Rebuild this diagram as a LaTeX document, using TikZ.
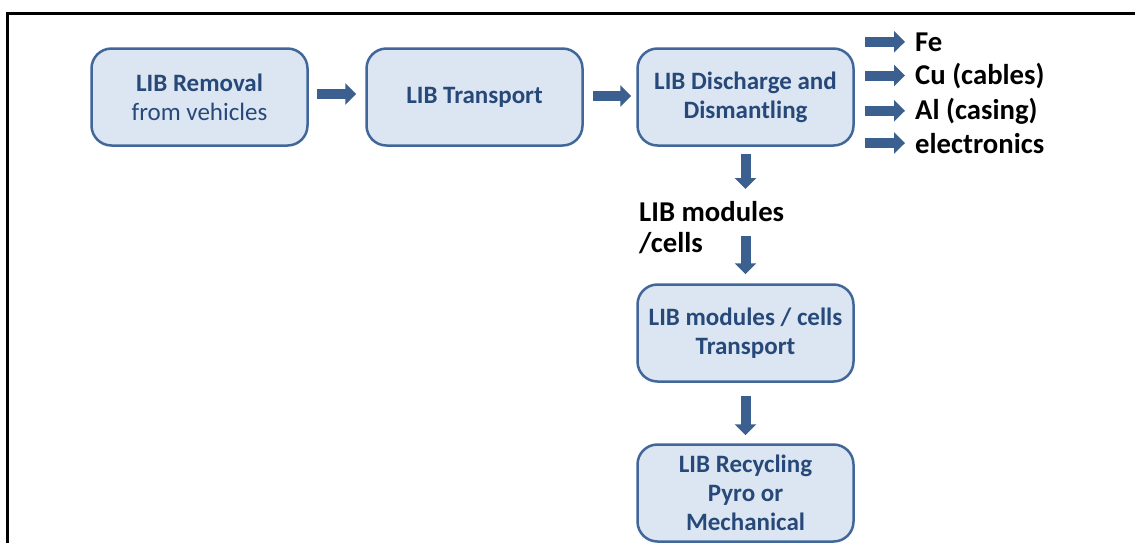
\documentclass[tikz,border=0pt]{standalone}
\usepackage{fontspec}
\setmainfont{Carlito}
\usetikzlibrary{arrows.meta}
\definecolor{boxfill}{HTML}{DCE6F2}
\definecolor{boxline}{HTML}{41679A}
\definecolor{boxtext}{HTML}{27497A}
\definecolor{arrowblue}{HTML}{3B5F8E}
\begin{document}
\begin{tikzpicture}[x=1pt,y=-1pt,
  stage/.style={draw=boxline, fill=boxfill, line width=2.5pt, rounded corners=20pt,
    minimum width=216pt, minimum height=97pt, align=center, text=boxtext,
    font=\fontsize{25}{29}\selectfont\bfseries, inner sep=0pt},
  lab/.style={font=\fontsize{28.7}{30.5}\selectfont\bfseries, inner sep=0pt, align=left, anchor=base west},
  blk/.style={draw=arrowblue, line width=10pt, -{Triangle[width=21pt,length=11pt,fill=arrowblue]}}
]
\useasboundingbox (0,0) rectangle (1135,542);
\draw[line width=3pt] (7,543) -- (7,13) -- (1135,13);

\node[stage] (b1) at (199.5,97) {LIB Removal\\{\mdseries from vehicles}};
\node[stage] (b2) at (474.5,97) {LIB Transport};
\node[stage] (b3) at (745.5,97) {LIB Discharge and\\Dismantling};
\node[stage] (b4) at (745.5,333) {LIB modules / cells\\Transport};
\node[stage] (b5) at (745.5,493) {LIB Recycling\\Pyro or\\Mechanical};

\node[lab] (t1) at (915,51) {Fe};
\node[lab] (t2) at (915,84) {Cu (cables)};
\node[lab] (t3) at (915,119) {Al (casing)};
\node[lab] (t4) at (915,153) {electronics};
\node[lab] (m) at (639,252) {LIB modules\\/cells};

\coordinate (c1) at (745.5,189);
\coordinate (c2) at (745.5,236);

\draw[blk, shorten <=8pt, shorten >=9pt] ([yshift=3pt]b1.east) -- ([yshift=3pt]b2.west);
\draw[blk, shorten <=9pt, shorten >=5pt] ([yshift=1pt]b2.east) -- ([yshift=1pt]b3.west);
\draw[blk, shorten <=7pt] (b3.south) -- (c1);
\draw[blk, shorten >=9pt] (c2) -- (b4.north);
\draw[blk, shorten <=13pt, shorten >=8pt] (b4.south) -- (b5.north);
\foreach \t in {t1,t2,t3,t4}
  \draw[blk, shorten <=10pt, shorten >=10pt] (b3.east |- \t.west) -- (\t.west);
\end{tikzpicture}
\end{document}
